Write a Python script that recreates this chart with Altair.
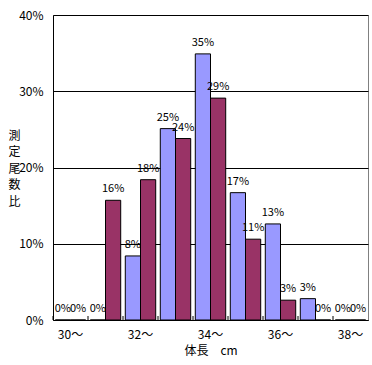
import altair as alt
import pandas as pd

categories = ["30～", "31～", "32～", "33～", "34～", "35～", "36～", "37～", "38～"]
tick_labels = ["30～", "", "32～", "", "34～", "", "36～", "", "38～"]
series_names = ["系列1", "系列2"]
series_1 = [0.0, 0.0, 8.4, 25.1, 34.9, 16.7, 12.6, 2.8, 0.0]
series_2 = [0.0, 15.7, 18.4, 23.8, 29.1, 10.6, 2.6, 0.0, 0.0]
y_ticks = [0, 0.1, 0.2, 0.3, 0.4]
y_title = ["測", "定", "尾", "数", "比"]
x_title = "体長　cm"
colors = ["#9999FF", "#993366"]

rows = []
for c, a, b in zip(categories, series_1, series_2):
    rows.append({"cat": c, "series": series_names[0], "value": a / 100})
    rows.append({"cat": c, "series": series_names[1], "value": b / 100})
df = pd.DataFrame(rows)
cat_df = pd.DataFrame({"cat": categories})

FONT = "Noto Sans CJK JP"
W, H = 315, 305

label_expr = "{" + ",".join(f"'{c}':'{t}'" for c, t in zip(categories, tick_labels)) + "}[datum.value]"

x_enc = alt.X(
    "cat:N",
    sort=categories,
    scale=alt.Scale(paddingInner=0, paddingOuter=0),
    axis=alt.Axis(
        title=x_title,
        labelAngle=0,
        ticks=False,
        domainColor="black",
        labelExpr=label_expr,
        labelFont=FONT,
        labelFontSize=12,
        labelColor="black",
        labelPadding=9,
        titleFont=FONT,
        titleFontSize=12,
        titleFontWeight="normal",
        titleColor="black",
        titlePadding=5,
    ),
)
xoff_enc = alt.XOffset(
    "series:N",
    sort=series_names,
    scale=alt.Scale(paddingOuter=0.15, paddingInner=0),
)
y_enc = alt.Y(
    "value:Q",
    scale=alt.Scale(domain=[0, 0.4], nice=False),
    axis=alt.Axis(
        values=y_ticks,
        format=".0%",
        ticks=False,
        grid=True,
        gridColor="black",
        gridWidth=1,
        gridOpacity=1,
        domainColor="black",
        labelFont=FONT,
        labelFontSize=12,
        labelColor="black",
        labelPadding=10,
        title=y_title,
        titleAngle=0,
        titleFont=FONT,
        titleFontSize=12,
        titleFontWeight="normal",
        titleColor="black",
        titleAlign="center",
        titleBaseline="top",
        titleLineHeight=16.5,
        titleX=-39,
        titleY=115,
    ),
)

base = alt.Chart(df).encode(x=x_enc, xOffset=xoff_enc)

bars = base.mark_bar(stroke="black", strokeWidth=1).encode(
    y=y_enc,
    color=alt.Color(
        "series:N",
        scale=alt.Scale(domain=series_names, range=colors),
        legend=None,
    ),
)

labels = base.mark_text(
    dy=-8, baseline="alphabetic", font=FONT, fontSize=11, color="black"
).encode(
    y=alt.Y("value:Q"),
    text=alt.Text("value:Q", format=".0%"),
)

ticks = alt.Chart(cat_df).mark_rule(color="black", strokeWidth=1).encode(
    x=alt.X("cat:N", sort=categories, bandPosition=0),
    y=alt.value(H - 4),
    y2=alt.value(H),
)

chart = (
    alt.layer(bars, labels, ticks)
    .properties(
        width=W,
        height=H,
        autosize=alt.AutoSizeParams(type="none"),
        padding={"left": 53, "top": 15, "right": 4, "bottom": 45},
        background="white",
    )
    .configure_view(stroke="#808080", strokeWidth=1)
)

chart.save("out.html", embed_options={"renderer": "svg", "actions": False})
